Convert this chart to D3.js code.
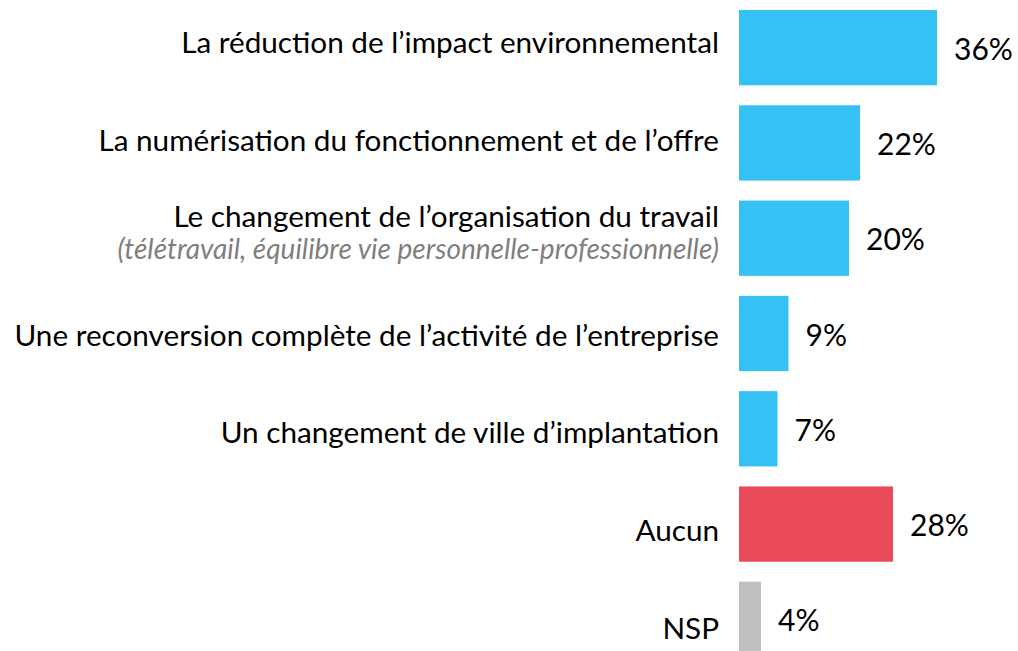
<!DOCTYPE html>
<html>
<head>
<meta charset="utf-8">
<script src="https://cdn.jsdelivr.net/npm/d3@7"></script>
<style>
  body { margin: 0; background: #fff; }
  svg { display: block; }
</style>
</head>
<body>
<div id="container"></div>
<script>
/* CONSTANTS AND GLOBALS */
const width = 1018,
  height = 651;

/* DATA */
const categories = [
  "La réduction de l’impact environnemental",
  "La numérisation du fonctionnement et de l’offre",
  "Le changement de l’organisation du travail",
  "Une reconversion complète de l’activité de l’entreprise",
  "Un changement de ville d’implantation",
  "Aucun",
  "NSP"
];
const subtitles = ["", "", "(télétravail, équilibre vie personnelle-professionnelle)", "", "", "", ""];
const values = [36, 22, 20, 9, 7, 28, 4];
const colors = ["#35C1F4", "#35C1F4", "#35C1F4", "#35C1F4", "#35C1F4", "#E84A57", "#BFBFBF"];

const data = categories.map((c, i) => ({
  label: c, sub: subtitles[i], value: values[i], color: colors[i]
}));

/* SCALES */
const xScale = d3.scaleLinear()
  .domain([0, 36])
  .range([739, 937]);

// bars
const yScale = d3.scaleBand()
  .domain(categories)
  .range([0, 667])
  .paddingInner(0.21)
  .paddingOuter(0.105);

// category text baselines (text column is spaced a bit wider than the bars)
const labelScale = d3.scalePoint()
  .domain(categories)
  .range([53, 638.5]);

/* DRAW */
const svg = d3.select("#container")
  .append("svg")
  .attr("width", width)
  .attr("height", height)
  .style("font-family", "Lato, 'Open Sans', sans-serif");

svg.selectAll("rect")
  .data(data)
  .join("rect")
  .attr("x", xScale(0))
  .attr("y", d => yScale(d.label))
  .attr("width", d => xScale(d.value) - xScale(0))
  .attr("height", yScale.bandwidth())
  .attr("fill", d => d.color);

// value labels
svg.selectAll("text.value")
  .data(data)
  .join("text")
  .attr("class", "value")
  .attr("x", d => xScale(d.value) + 17)
  .attr("y", d => yScale(d.label) + yScale.bandwidth() / 2 + 12)
  .attr("font-size", 30)
  .attr("fill", "#000")
  .text(d => d.value + "%");

// category labels
const labels = svg.selectAll("g.label")
  .data(data)
  .join("g")
  .attr("class", "label")
  .attr("transform", d => `translate(719,${labelScale(d.label)})`);

labels.append("text")
  .attr("text-anchor", "end")
  .attr("y", d => d.sub ? -21 : 0)
  .attr("font-size", 29.7)
  .attr("fill", "#000")
  .text(d => d.label);

labels.filter(d => d.sub)
  .append("text")
  .attr("text-anchor", "end")
  .attr("y", 11)
  .attr("font-size", 28)
  .attr("font-style", "italic")
  .attr("fill", "#7F7F7F")
  .text(d => d.sub);
</script>
</body>
</html>
